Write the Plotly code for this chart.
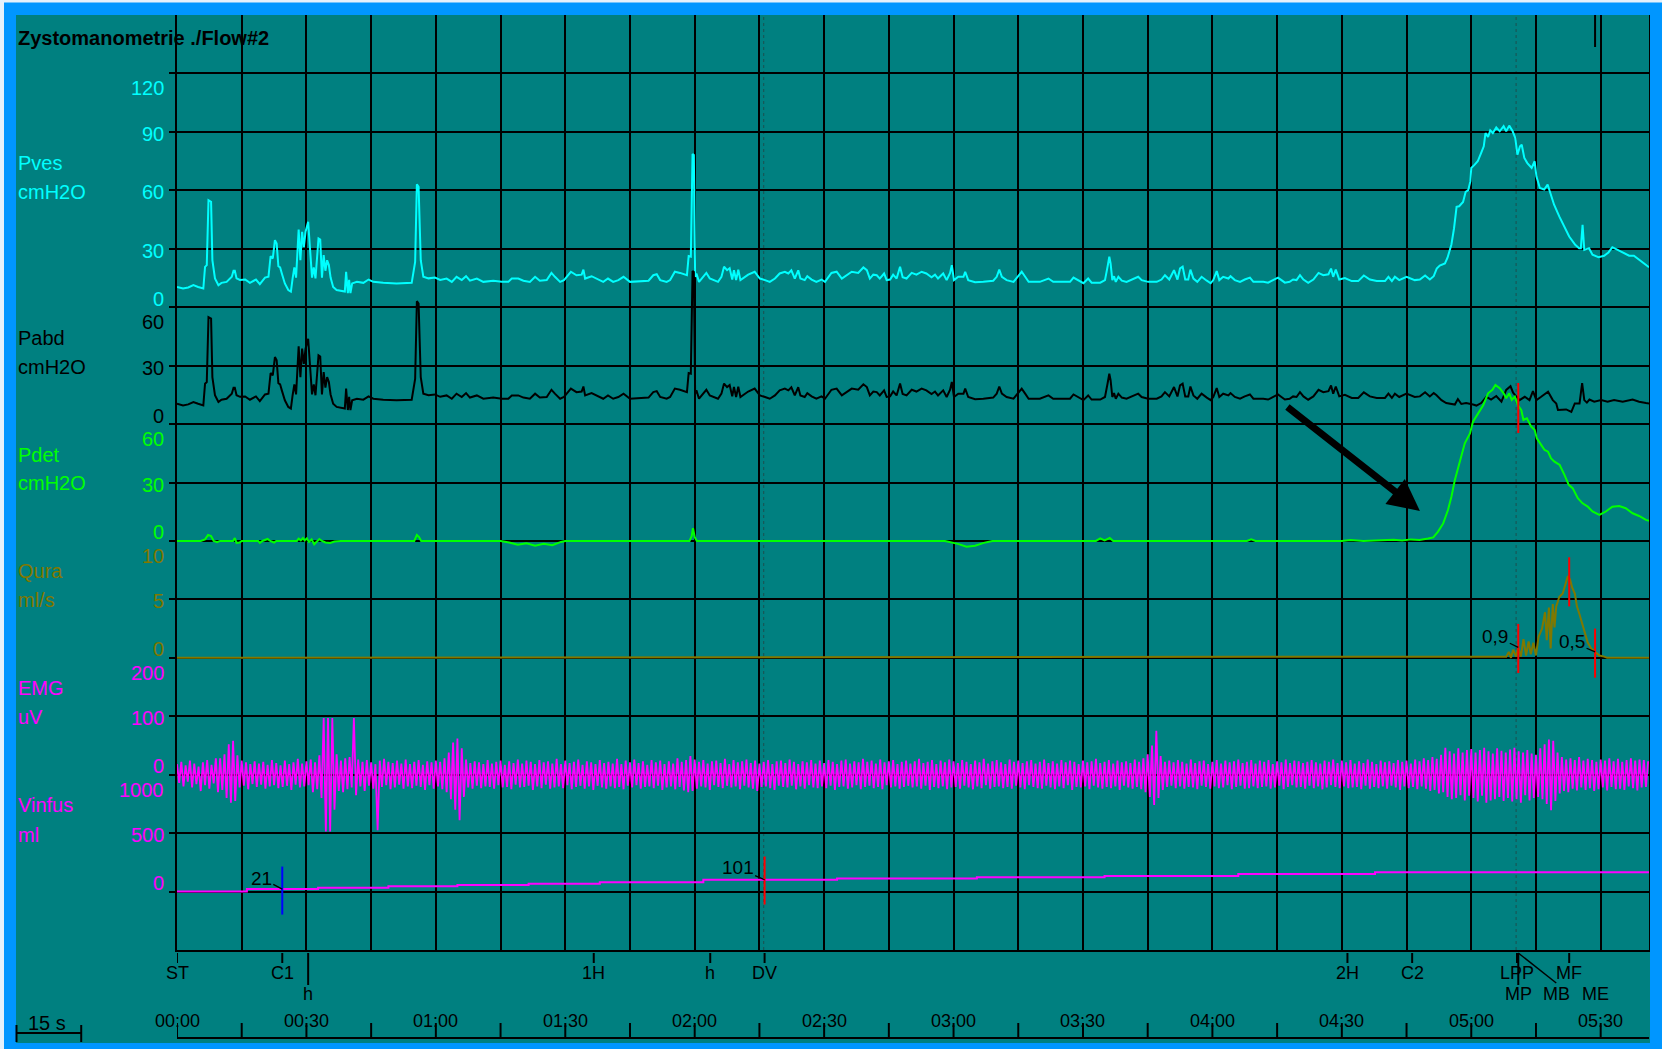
import plotly.graph_objects as go

# ---------------------------------------------------------------- data
# Filling phase: vesical and abdominal pressure run together (cmH2O)
PRE_T = [0.0, 1.4, 2.6, 3.8, 4.9, 6.1, 6.5, 6.9, 7.3, 7.9,
         8.2, 8.8, 9.6, 10.3, 11.5, 12.7, 13.1, 13.4, 13.8, 14.6,
         15.8, 16.9, 18.3, 19.2, 20.4, 21.2, 21.7, 22.2, 22.7, 23.1,
         23.5, 23.9, 24.3, 25.0, 25.8, 26.4, 26.8, 27.2, 27.6, 28.2,
         28.6, 29.0, 29.4, 29.8, 30.4, 30.8, 31.3, 31.7, 32.1, 32.8,
         33.2, 33.6, 34.0, 34.4, 34.8, 35.2, 35.6, 36.2, 37.0, 38.9,
         39.2, 39.6, 39.9, 40.2, 40.6, 41.7, 43.2, 44.4, 45.5, 47.8,
         50.9, 54.4, 54.8, 55.2, 55.6, 56.0, 56.5, 57.1, 58.3, 59.8,
         61.0, 62.5, 63.7, 64.8, 66.0, 67.0, 67.9, 69.5, 71.0, 73.3,
         75.3, 76.8, 77.6, 79.1, 80.3, 81.8, 83.0, 84.1, 85.7, 86.8,
         87.6, 88.8, 89.7, 90.7, 91.3, 92.6, 93.8, 94.2, 94.6, 96.1,
         97.7, 98.8, 99.9, 101.1, 102.3, 103.5, 105.0, 107.3, 109.3, 110.4,
         111.2, 112.0, 113.5, 114.3, 115.4, 116.6, 118.2, 118.6, 119.1, 119.5,
         119.8, 120.1, 120.4, 121.0, 121.9, 122.7, 123.5, 124.4, 125.4, 126.2,
         126.8, 127.5, 128.1, 128.7, 129.1, 129.6, 130.1, 130.6, 131.2, 132.4,
         133.9, 135.1, 136.3, 137.4, 138.6, 139.7, 140.9, 141.7, 142.4, 143.2,
         144.0, 144.5, 145.5, 146.1, 147.1, 148.2, 149.4, 150.2, 151.7, 152.9,
         154.1, 155.6, 156.4, 157.9, 159.1, 159.9, 160.6, 161.4, 162.2, 162.9,
         163.9, 164.5, 165.3, 166.0, 166.8, 167.6, 168.2, 169.1, 170.3, 171.4,
         172.6, 173.7, 174.9, 175.7, 176.4, 177.6, 178.4, 179.2, 179.6, 180.1,
         181.1, 182.3, 182.7, 183.4, 185.0, 186.9, 189.2, 190.0, 190.6, 191.2,
         192.3, 193.9, 195.0, 195.8, 196.6, 197.4, 198.1, 200.0, 202.0, 203.1,
         205.4, 207.0, 207.8, 208.9, 210.1, 211.2, 212.0, 214.0, 215.1, 215.7,
         216.1, 216.4, 216.8, 217.2, 217.6, 218.2, 219.0, 220.1, 221.7, 222.8,
         223.6, 225.1, 227.1, 228.2, 229.0, 230.0, 231.1, 231.9, 232.5, 233.1,
         233.7, 234.4, 234.9, 235.6, 236.5, 237.5, 238.7, 239.6, 240.2, 241.0,
         241.6, 242.5, 243.7, 244.2, 245.2, 246.4, 247.5, 248.7, 249.5, 251.8,
         252.9, 254.1, 255.2, 256.0, 256.8, 257.9, 258.7, 259.5, 260.3, 261.1,
         262.2, 263.4, 264.6, 265.7, 266.9, 267.5, 268.0, 268.6, 269.4, 270.7,
         272.3, 273.8, 275.1, 276.5, 278.1, 280.0, 280.8, 281.6, 282.3, 283.3,
         285.0, 286.9, 288.1, 289.3, 290.4, 291.3]
PRE_V = [10.4, 9.6, 10.1, 11.3, 10.4, 9.6, 20.7, 21.6, 54.9, 54.1,
         24.1, 14.8, 11.3, 12.5, 13.0, 15.6, 18.7, 18.7, 14.8, 14.0,
         14.2, 12.5, 14.2, 11.8, 15.2, 15.6, 26.2, 25.0, 34.4, 32.7,
         21.0, 20.4, 17.3, 12.2, 8.8, 8.0, 14.8, 20.4, 15.2, 39.9,
         24.1, 38.7, 30.9, 38.7, 43.8, 30.1, 15.2, 20.4, 14.8, 35.3,
         34.7, 15.2, 26.7, 18.7, 24.1, 21.6, 15.2, 10.4, 8.8, 8.0,
         18.2, 7.2, 14.0, 7.2, 12.2, 13.0, 12.5, 14.2, 13.0, 12.5,
         12.2, 12.5, 16.9, 23.2, 63.1, 61.8, 24.1, 15.6, 14.8, 15.2,
         14.0, 14.7, 13.0, 15.6, 13.9, 15.9, 13.6, 14.7, 13.0, 13.6,
         13.0, 13.0, 14.7, 14.7, 13.6, 13.0, 15.6, 13.6, 13.9, 17.6,
         15.6, 13.0, 13.9, 16.4, 18.2, 16.4, 16.7, 19.3, 14.7, 15.9,
         14.2, 13.0, 14.7, 13.0, 13.9, 15.6, 13.0, 13.3, 13.6, 16.4,
         16.9, 13.9, 13.0, 13.9, 18.2, 17.6, 16.4, 26.2, 25.9, 78.6,
         78.1, 15.6, 17.3, 13.0, 15.6, 17.6, 14.7, 13.9, 13.0, 15.6,
         20.8, 19.0, 20.0, 14.2, 19.0, 13.9, 19.2, 13.9, 14.7, 16.7,
         18.2, 14.7, 13.9, 13.0, 14.7, 17.3, 18.2, 17.3, 18.9, 14.7,
         18.9, 14.7, 13.9, 15.9, 14.2, 13.0, 14.2, 13.0, 17.6, 18.2,
         14.7, 16.7, 18.2, 17.6, 20.4, 19.0, 14.7, 16.7, 16.4, 14.7,
         17.3, 13.9, 14.2, 16.7, 14.7, 20.8, 15.4, 14.7, 17.6, 16.7,
         18.2, 17.3, 15.4, 16.7, 14.7, 17.3, 13.9, 17.6, 21.6, 13.9,
         15.6, 15.6, 18.2, 13.9, 12.8, 13.0, 13.6, 15.6, 19.3, 15.6,
         13.9, 13.0, 16.0, 18.2, 15.6, 13.0, 13.0, 13.0, 14.7, 13.0,
         13.0, 13.0, 15.2, 13.6, 12.3, 14.7, 12.6, 12.6, 13.9, 20.8,
         25.9, 22.5, 13.9, 15.9, 13.0, 15.6, 13.6, 13.0, 14.7, 15.6,
         13.9, 13.0, 13.0, 14.2, 16.4, 14.2, 19.0, 14.2, 19.9, 20.8,
         14.2, 14.2, 19.3, 14.7, 13.0, 15.6, 13.6, 12.3, 13.9, 18.5,
         13.9, 15.6, 14.7, 15.9, 13.9, 13.0, 14.2, 15.2, 13.0, 13.0,
         12.6, 13.9, 15.2, 13.9, 12.6, 13.0, 14.2, 13.9, 16.4, 14.2,
         12.5, 14.2, 17.6, 16.4, 16.9, 19.8, 15.6, 19.3, 14.2, 15.0,
         13.4, 13.4, 16.3, 14.2, 13.4, 13.4, 15.6, 13.4, 15.6, 13.9,
         15.6, 13.9, 14.2, 16.3, 14.2, 15.9]

# Voiding phase, Pves (cmH2O)
PVES_END_T = [292.0, 292.7, 293.9, 294.5, 295.4, 296.0, 296.6, 297.2, 298.1, 298.7,
              299.3, 299.8, 300.0, 300.8, 301.5, 302.3, 302.9, 303.3, 303.9, 304.4,
              305.0, 305.8, 306.6, 307.5, 308.1, 308.8, 309.6, 310.2, 310.7, 311.3,
              311.7, 312.3, 313.0, 314.0, 314.7, 315.1, 315.9, 316.9, 317.7, 318.2,
              319.2, 320.4, 321.5, 322.7, 324.1, 325.0, 325.4, 325.8, 326.2, 326.7,
              327.3, 328.1, 329.5, 330.8, 331.8, 332.7, 333.9, 335.0, 336.6, 337.7,
              338.9, 340.5, 341.2]
PVES_END_V = [19.8, 21.4, 22.5, 25.4, 32.2, 40.4, 51.5, 51.8, 54.0, 59.2,
              60.1, 64.7, 71.5, 73.2, 74.9, 79.2, 82.6, 89.4, 87.4, 90.8,
              89.4, 92.3, 90.3, 92.9, 90.3, 93.2, 90.3, 86.9, 78.3, 82.6,
              83.4, 76.6, 74.0, 71.5, 74.9, 67.2, 61.2, 60.4, 62.9, 59.5,
              52.6, 46.6, 41.4, 36.3, 32.0, 30.3, 30.3, 42.3, 29.4, 29.8,
              30.3, 26.9, 25.7, 26.4, 28.1, 30.8, 29.4, 28.1, 26.4, 26.4,
              24.3, 21.3, 20.5]

# Voiding phase, Pabd (cmH2O)
PABD_END_T = [291.9, 293.1, 294.2, 296.2, 296.9, 297.7, 298.8, 300.4, 301.2, 302.3,
              303.5, 304.6, 305.8, 307.0, 308.1, 309.1, 309.7, 310.5, 311.2, 312.4,
              313.5, 314.3, 315.1, 316.2, 317.8, 318.9, 319.7, 320.1, 322.0, 323.2,
              324.0, 325.1, 325.7, 326.2, 326.8, 327.4, 328.5, 330.1, 331.6, 333.1,
              335.1, 337.4, 338.9, 340.5, 341.2]
PABD_END_V = [14.9, 12.3, 10.8, 10.0, 12.8, 10.3, 10.8, 10.0, 9.5, 10.8,
              14.0, 12.6, 14.4, 11.5, 17.5, 19.4, 16.1, 14.0, 12.3, 14.0,
              12.3, 16.9, 12.3, 14.0, 16.6, 12.3, 10.6, 7.2, 7.5, 6.3,
              10.6, 10.6, 21.0, 12.3, 11.0, 12.6, 11.5, 12.3, 11.5, 12.3,
              11.5, 12.6, 11.5, 10.8, 10.6]

# Detrusor pressure (cmH2O)
PDET_T = [0.0, 5.5, 6.5, 7.2, 7.9, 8.5, 9.3, 10.0, 13.0, 13.4,
          13.8, 14.5, 15.0, 18.8, 19.2, 19.8, 21.0, 21.6, 22.5, 23.0,
          27.8, 28.2, 28.7, 29.2, 29.6, 30.1, 30.6, 31.2, 31.8, 32.4,
          33.0, 33.6, 34.4, 35.5, 36.5, 38.0, 55.0, 55.6, 56.1, 56.6,
          75.0, 77.0, 79.0, 81.0, 83.0, 85.0, 87.0, 89.0, 90.0, 118.8,
          119.3, 119.6, 120.0, 120.5, 178.0, 181.0, 183.0, 185.0, 187.0, 189.0,
          213.0, 214.0, 215.0, 216.2, 217.0, 248.0, 249.0, 250.0, 270.0, 272.0,
          275.0, 282.0, 284.0, 286.0, 288.0, 290.0, 291.2, 292.3, 293.5, 294.6,
          295.4, 296.2, 297.4, 298.5, 299.7, 300.4, 301.6, 302.8, 303.9, 304.9,
          305.6, 306.6, 307.5, 308.1, 308.8, 309.4, 310.1, 310.8, 311.6, 312.1,
          312.9, 313.9, 314.7, 315.2, 316.2, 317.0, 317.8, 318.5, 319.3, 320.5,
          321.6, 322.6, 323.5, 324.7, 325.8, 327.0, 328.1, 329.7, 331.2, 332.7,
          334.3, 335.8, 337.4, 338.9, 340.5, 341.2]
PDET_V = [0, 0, 0.8, 3.1, 2.5, 0, -0.6, 0, 0, 1.5,
          -1.0, -0.8, 0, 0, -1.0, 0, 1.0, 0, -0.8, 0,
          0, 1.2, 0.3, 1.5, 0.2, 1.3, -0.5, 0.8, -1.7, -0.3,
          1.0, 0, -0.8, -1.0, -0.3, 0, 0, 3.1, 2.0, 0,
          0, -0.8, -2.0, -1.2, -2.4, -1.5, -2.2, -0.5, 0, 0,
          2.5, 6.5, 2.0, 0, 0, -1.5, -3.0, -2.5, -1.0, 0,
          0, 1.3, 0.3, 1.5, 0, 0, 0.8, 0, 0, 0.5,
          0, 0.6, 0.2, 0.8, 0.5, 1.2, 1.8, 4.8, 9.0, 15.9,
          22.7, 31.3, 41.6, 50.1, 55.2, 61.2, 65.5, 69.8, 75.8, 77.6,
          80.1, 78.4, 75.8, 73.3, 75.8, 72.4, 74.1, 69.8, 67.2, 62.1,
          63.0, 58.7, 57.0, 52.7, 49.3, 46.7, 45.8, 42.4, 40.7, 39.0,
          33.9, 28.8, 27.1, 21.9, 19.3, 17.6, 15.1, 13.4, 15.1, 17.6,
          17.9, 16.8, 14.2, 12.8, 10.8, 10.3]

# Urine flow (ml/s)
QURA_T = [0.0, 308.1, 308.7, 309.2, 309.7, 310.4, 310.9, 311.5, 312.1, 312.7,
          313.3, 313.8, 314.4, 315.0, 315.6, 316.4, 317.1, 317.5, 318.0, 318.4,
          318.9, 319.3, 319.7, 320.4, 321.2, 321.9, 322.4, 322.9, 323.4, 324.0,
          324.5, 325.1, 325.6, 326.3, 327.0, 327.8, 328.7, 329.7, 330.8, 331.5,
          341.2]
QURA_V = [0, 0.1, 0.5, 0, 0.7, 0.1, 0.9, 0.1, 1.6, 0.2,
          1.4, 0.3, 1.3, 0.2, 1.8, 2.5, 3.9, 1.5, 4.3, 0.8,
          4.6, 2.6, 4.4, 5.2, 5.5, 6.5, 7.0, 6.7, 6.0, 5.5,
          4.4, 3.7, 3.1, 2.2, 1.3, 0.8, 0.5, 0.2, 0.1, 0,
          0]

# Pelvic floor EMG (uV), one sample every 0.5 s
EMG_STEP = 0.5
EMG_UV = [
    18, -14, 22, -20, 16, -12, 24, -22, 19, -16, 14, -28, 21, -18, 25, -24, 17, -15, 28, -30,
    28, -26, 35, -40, 52, -48, 58, -45, 33, -22, 24, -19, 21, -25, 18, -16, 23, -21, 19, -17,
    22, -24, 17, -20, 25, -18, 20, -23, 16, -21, 24, -19, 18, -26, 21, -17, 27, -22, 19, -20,
    23, -18, 26, -30, 21, -25, 33, -40, 97, -97, 97, -97, 97, -60, 35, -28, 24, -30, 28, -25,
    30, -22, 97, -35, 26, -20, 22, -28, 25, -19, 21, -24, 18, -95, 24, -21, 27, -18, 22, -25,
    20, -22, 24, -17, 19, -24, 26, -20, 18, -23, 22, -19, 25, -21, 17, -26, 23, -18, 21, -24,
    24, -20, 22, -25, 28, -30, 38, -42, 55, -60, 62, -78, 45, -38, 26, -22, 20, -24, 23, -19,
    21, -23, 18, -20, 25, -21, 19, -24, 22, -18, 24, -22, 17, -21, 23, -25, 20, -17, 26, -22,
    19, -21, 24, -19, 22, -26, 18, -20, 25, -23, 21, -17, 23, -24, 19, -22, 27, -20, 18, -23,
    24, -18, 20, -25, 22, -21, 26, -19, 17, -24, 23, -20, 21, -26, 18, -19, 25, -22, 20, -24,
    22, -20, 19, -23, 27, -21, 18, -25, 24, -19, 21, -22, 26, -18, 20, -24, 23, -21, 17, -20,
    25, -23, 21, -19, 24, -26, 18, -22, 23, -20, 19, -25, 28, -21, 22, -27, 25, -30, 32, -28,
    26, -24, 22, -20, 25, -22, 19, -26, 23, -18, 24, -21, 20, -23, 27, -19, 18, -22, 25, -20,
    21, -25, 23, -19, 26, -22, 20, -24, 24, -28, 19, -21, 22, -20, 25, -23, 18, -26, 23, -19,
    24, -21, 20, -22, 26, -19, 22, -25, 18, -20, 23, -24, 21, -18, 25, -22, 19, -23, 24, -20,
    20, -23, 25, -19, 22, -26, 18, -21, 24, -20, 26, -24, 19, -22, 23, -18, 21, -25, 27, -21,
    22, -19, 24, -23, 19, -21, 26, -25, 21, -18, 23, -22, 25, -20, 18, -24, 22, -21, 24, -19,
    19, -22, 23, -20, 27, -24, 20, -19, 22, -26, 25, -21, 18, -23, 24, -20, 21, -25, 26, -22,
    23, -21, 20, -24, 25, -19, 22, -22, 18, -25, 24, -20, 21, -23, 27, -18, 19, -24, 23, -21,
    25, -20, 21, -23, 18, -21, 26, -24, 22, -19, 24, -22, 20, -25, 23, -18, 25, -21, 19, -23,
    22, -24, 26, -19, 20, -22, 23, -25, 19, -20, 25, -23, 21, -18, 24, -26, 22, -21, 18, -22,
    24, -20, 21, -25, 23, -19, 27, -22, 20, -24, 22, -21, 25, -23, 19, -20, 24, -26, 21, -19,
    23, -22, 20, -24, 26, -21, 22, -25, 28, -30, 35, -38, 50, -52, 75, -40, 32, -26, 22, -21,
    24, -19, 21, -23, 25, -20, 22, -24, 19, -21, 26, -22, 20, -25, 23, -19, 24, -21, 18, -24,
    22, -20, 25, -23, 19, -22, 24, -18, 21, -25, 23, -21, 26, -19, 20, -24, 22, -23, 25, -20,
    19, -23, 24, -21, 22, -20, 25, -24, 18, -22, 23, -19, 21, -25, 26, -21, 20, -18, 24, -22,
    23, -21, 20, -24, 22, -19, 25, -23, 21, -20, 19, -25, 24, -22, 22, -18, 26, -21, 20, -23,
    24, -20, 21, -23, 25, -22, 19, -21, 23, -25, 20, -19, 26, -24, 22, -21, 18, -23, 24, -20,
    21, -24, 23, -19, 20, -22, 25, -26, 22, -20, 24, -23, 19, -21, 26, -25, 23, -20, 28, -24,
    25, -28, 30, -26, 27, -32, 34, -30, 46, -38, 40, -42, 36, -40, 45, -35, 38, -44, 42, -36,
    44, -40, 38, -46, 42, -36, 46, -48, 40, -44, 36, -42, 45, -38, 41, -45, 38, -40, 43, -46,
    46, -42, 40, -48, 38, -35, 42, -44, 36, -40, 34, -38, 45, -42, 52, -50, 60, -61, 58, -45,
    38, -32, 30, -28, 26, -30, 28, -24, 25, -27, 30, -22, 24, -26, 27, -23, 25, -28, 22, -25,
    26, -22, 24, -27, 28, -21, 23, -25, 27, -24, 22, -26, 25, -20, 28, -23, 24, -27, 26, -22,
    25, -21, 23,
]

# Infused volume (ml), stepwise
VINF_T = [0.0, 16.2, 32.7, 49.0, 65.0, 81.5, 98.0, 122.0, 153.0, 185.4, 215.0, 246.0, 277.7, 341.2]
VINF_V = [0, 21, 33, 45, 56, 67, 80, 101, 111, 122, 133, 151, 165, 165]

# Event markers along the time base
EVENT_NAMES = ["ST", "C1", "h", "1H", "h", "DV", "2H", "C2", "LPP", "MP", "MB", "MF", "ME"]
EVENT_TIMES = [0.0, 24.4, 30.4, 96.6, 123.6, 136.2, 271.3, 286.3, 310.6, 310.9, 319.7, 322.7, 328.7]
EVENT_ROWS = [1, 1, 2, 1, 1, 1, 1, 1, 1, 2, 2, 1, 2]

# Time base labels
TIME_TICKS = [0, 30, 60, 90, 120, 150, 180, 210, 240, 270, 300, 330]
TIME_LABELS = ["00:00", "00:30", "01:00", "01:30", "02:00", "02:30",
               "03:00", "03:30", "04:00", "04:30", "05:00", "05:30"]

# Labelled cursor values
C1_VOL, DV_VOL = 21, 101
QURA_START, QURA_END = 0.9, 0.5

# ---------------------------------------------------------------- styling
TEAL = "#008080"
FRAME = "#0096FF"
CYAN = "#00FFFF"
GREEN = "#00FF00"
OLIVE = "#807800"
MAGENTA = "#FF00FF"
FONT = "Liberation Sans, Arial, sans-serif"

FIG_W, FIG_H = 1662, 1049
PLOT_L, PLOT_R, PLOT_T, PLOT_B = 177, 1649, 15, 950
T_END = 341.2
ROWS = 16


def px(x):
    return (x - PLOT_L) / (PLOT_R - PLOT_L)


def py(y):
    return (PLOT_B - y) / (PLOT_B - PLOT_T)


def chan_range(zero_row, per_row):
    return [-zero_row * per_row, (ROWS - zero_row) * per_row]


# Pves carries the main y axis (and hence the chart grid); the others overlay it
CHANNELS = [
    dict(name="Pves", unit="cmH2O", color=CYAN, axis="y", zero=11, per=30,
         ticks=[0, 30, 60, 90, 120], label_y=(163, 192)),
    dict(name="Pabd", unit="cmH2O", color="black", axis="y2", zero=9, per=30,
         ticks=[0, 30, 60], label_y=(338, 367)),
    dict(name="Pdet", unit="cmH2O", color=GREEN, axis="y3", zero=7, per=30,
         ticks=[0, 30, 60], label_y=(455, 483)),
    dict(name="Qura", unit="ml/s", color=OLIVE, axis="y4", zero=5, per=5,
         ticks=[0, 5, 10], label_y=(571, 600)),
    dict(name="EMG", unit="uV", color=MAGENTA, axis="y5", zero=3, per=100,
         ticks=[0, 100, 200], label_y=(688, 717)),
    dict(name="Vinfus", unit="ml", color=MAGENTA, axis="y6", zero=1, per=500,
         ticks=[0, 500, 1000], label_y=(805, 835)),
]

emg_t = [i * EMG_STEP for i in range(len(EMG_UV))]
series = {
    "y": (PRE_T + PVES_END_T, PRE_V + PVES_END_V, CYAN, 2.0, "linear"),
    "y2": (PRE_T + PABD_END_T, PRE_V + PABD_END_V, "black", 2.0, "linear"),
    "y3": (PDET_T, PDET_V, GREEN, 2.0, "linear"),
    "y4": (QURA_T, QURA_V, OLIVE, 2.0, "linear"),
    "y5": (emg_t, EMG_UV, MAGENTA, 1.8, "linear"),
    "y6": (VINF_T, VINF_V, MAGENTA, 2.0, "hv"),
}

fig = go.Figure()
for ch in CHANNELS:
    t, v, col, w, shape = series[ch["axis"]]
    fig.add_trace(go.Scatter(x=t, y=v, mode="lines", yaxis=ch["axis"],
                             line=dict(color=col, width=w, shape=shape),
                             hoverinfo="skip", name=ch["name"]))

pves = CHANNELS[0]
pves_range = chan_range(pves["zero"], pves["per"])
grid_vals = [pves_range[0] + k * pves["per"] for k in range(1, ROWS)]

layout_axes = {}
for ch in CHANNELS[1:]:
    key = "yaxis" + ch["axis"][1:]
    layout_axes[key] = dict(overlaying="y", range=chan_range(ch["zero"], ch["per"]),
                            visible=False, fixedrange=True)

fig.update_layout(
    width=FIG_W, height=FIG_H,
    margin=dict(l=PLOT_L, r=FIG_W - PLOT_R, t=PLOT_T, b=FIG_H - PLOT_B, pad=0),
    paper_bgcolor=TEAL, plot_bgcolor="rgba(0,0,0,0)",
    showlegend=False,
    font=dict(family=FONT, size=18, color="black"),
    xaxis=dict(range=[0, T_END], tick0=0, dtick=15, showgrid=True, gridcolor="black",
               gridwidth=2, zeroline=False, showticklabels=False, ticks="",
               showline=True, mirror=True, linecolor="black", linewidth=2, fixedrange=True),
    yaxis=dict(range=pves_range, tickvals=grid_vals, showgrid=True,
               gridcolor="black", gridwidth=2, zeroline=False, showticklabels=False,
               ticks="outside", ticklen=6, tickwidth=2, tickcolor="black",
               showline=True, mirror=True, linecolor="black", linewidth=2, fixedrange=True),
    **layout_axes,
)

shapes = []
annotations = []

# outer frame
for x0, x1, y0, y1, col in [
    (0, FIG_W, 0, PLOT_T, FRAME), (0, FIG_W, 1043, FIG_H, FRAME),
    (0, 16, 0, FIG_H, FRAME), (1650, FIG_W, 0, FIG_H, FRAME),
    (0, FIG_W, 0, 2.5, "#E4F1FB"), (0, 4, 0, FIG_H, "#E4F1FB"),
]:
    shapes.append(dict(type="rect", xref="paper", yref="paper", x0=px(x0), x1=px(x1),
                       y0=py(y1), y1=py(y0), fillcolor=col, line=dict(width=0), layer="above"))

# title
annotations.append(dict(text="<b>Zystomanometrie ./Flow#2</b>", xref="paper", yref="paper",
                        x=px(16), y=py(38), xanchor="left", yanchor="middle",
                        showarrow=False, font=dict(size=20, color="black")))

# channel names, units and scale labels
for ch in CHANNELS:
    for txt, yy in zip((ch["name"], ch["unit"]), ch["label_y"]):
        annotations.append(dict(text=txt, xref="paper", yref="paper", x=px(16), y=py(yy),
                                xanchor="left", yanchor="middle", showarrow=False,
                                font=dict(size=20, color=ch["color"])))
    for v in ch["ticks"]:
        if v == ch["ticks"][-1]:
            shift = -15
        elif v == 0:
            shift = 8.5
        else:
            shift = -2
        annotations.append(dict(text=str(v), xref="paper", yref=ch["axis"], x=0, y=v,
                                xanchor="right", yanchor="middle", xshift=-11, yshift=shift,
                                showarrow=False, font=dict(size=20, color=ch["color"])))

# cursor lines through the whole record
for tc in (136.0, 310.4):
    shapes.append(dict(type="line", xref="x", yref="paper", x0=tc, x1=tc, y0=0, y1=1,
                       line=dict(color="#1C4F4F", width=1, dash="dot"), layer="below"))

# ME marker at the top edge
shapes.append(dict(type="line", xref="x", yref="paper", x0=328.7, x1=328.7,
                   y0=1, y1=py(47), line=dict(color="black", width=2)))

# event ticks and labels under the record
for name, te, row in zip(EVENT_NAMES, EVENT_TIMES, EVENT_ROWS):
    if name not in ("MB", "ME"):
        y_end = 963 if row == 1 else 985
        shapes.append(dict(type="line", xref="x", yref="paper", x0=te, x1=te,
                           y0=py(953), y1=py(y_end), line=dict(color="black", width=2)))
    annotations.append(dict(text=name, xref="x", yref="paper", x=te,
                            y=py(973 if row == 1 else 994), xanchor="center", yanchor="middle",
                            showarrow=False, font=dict(size=18, color="black")))
mp_t = EVENT_TIMES[EVENT_NAMES.index("MP")]
mb_t = EVENT_TIMES[EVENT_NAMES.index("MB")]
shapes.append(dict(type="line", xref="x", yref="paper", x0=mp_t, x1=mb_t,
                   y0=py(953), y1=py(983), line=dict(color="black", width=1.5)))

# time base
shapes.append(dict(type="line", xref="x", yref="paper", x0=0, x1=T_END,
                   y0=py(1038), y1=py(1038), line=dict(color="black", width=2)))
for tt in range(0, 331, 15):
    shapes.append(dict(type="line", xref="x", yref="paper", x0=tt, x1=tt,
                       y0=py(1023), y1=py(1038), line=dict(color="black", width=2)))
for tt, lab in zip(TIME_TICKS, TIME_LABELS):
    annotations.append(dict(text=lab, xref="x", yref="paper", x=tt, y=py(1021),
                            xanchor="center", yanchor="middle", showarrow=False,
                            font=dict(size=18, color="black")))

# 15 s scale bar
sec_px = (PLOT_R - PLOT_L) / T_END
bar_l = 16.5
bar_r = bar_l + 15 * sec_px
shapes.append(dict(type="line", xref="paper", yref="paper", x0=px(bar_l), x1=px(bar_r),
                   y0=py(1033), y1=py(1033), line=dict(color="black", width=2)))
for xb in (bar_l, bar_r):
    shapes.append(dict(type="line", xref="paper", yref="paper", x0=px(xb), x1=px(xb),
                       y0=py(1025), y1=py(1042), line=dict(color="black", width=2)))
annotations.append(dict(text="15 s", xref="paper", yref="paper", x=px(47), y=py(1023),
                        xanchor="center", yanchor="middle", showarrow=False,
                        font=dict(size=20, color="black")))

# cursor markers on the channels
for tc, yref, lo, hi, col in [
    (310.9, "y3", 55.4, 81.1, "red"),
    (310.9, "y4", -1.3, 2.9, "red"),
    (322.7, "y4", 4.4, 8.6, "red"),
    (328.7, "y4", -1.7, 2.5, "red"),
    (136.2, "y6", -111, 300, "red"),
    (24.4, "y6", -197, 214, "#0000FF"),
]:
    shapes.append(dict(type="line", xref="x", yref=yref, x0=tc, x1=tc, y0=lo, y1=hi,
                       line=dict(color=col, width=2)))

# value read-outs at the cursors
for txt, tc, yref, val, ax, ay in [
    (str(C1_VOL), 24.4, "y6", C1_VOL, -21, -11),
    (str(DV_VOL), 136.2, "y6", DV_VOL, -27, -12),
    (f"{QURA_START}".replace(".", ","), 310.9, "y4", QURA_START, -23, -11),
    (f"{QURA_END}".replace(".", ","), 328.7, "y4", QURA_END, -23, -10),
]:
    annotations.append(dict(text=txt, xref="x", yref=yref, x=tc, y=val, ax=ax, ay=ay,
                            showarrow=True, arrowhead=0, arrowwidth=1.3, arrowcolor="black",
                            font=dict(size=19, color="black"), xanchor="center",
                            yanchor="middle", standoff=0))

# arrow pointing at the onset of the detrusor contraction
annotations.append(dict(text="", xref="x", yref="y3", x=288.1, y=15.4, ax=-134, ay=-105,
                        showarrow=True, arrowhead=2, arrowsize=0.9, arrowwidth=7,
                        arrowcolor="black", standoff=0))

fig.update_layout(shapes=shapes, annotations=annotations)
fig.write_html("out.html", config={"displayModeBar": False})
